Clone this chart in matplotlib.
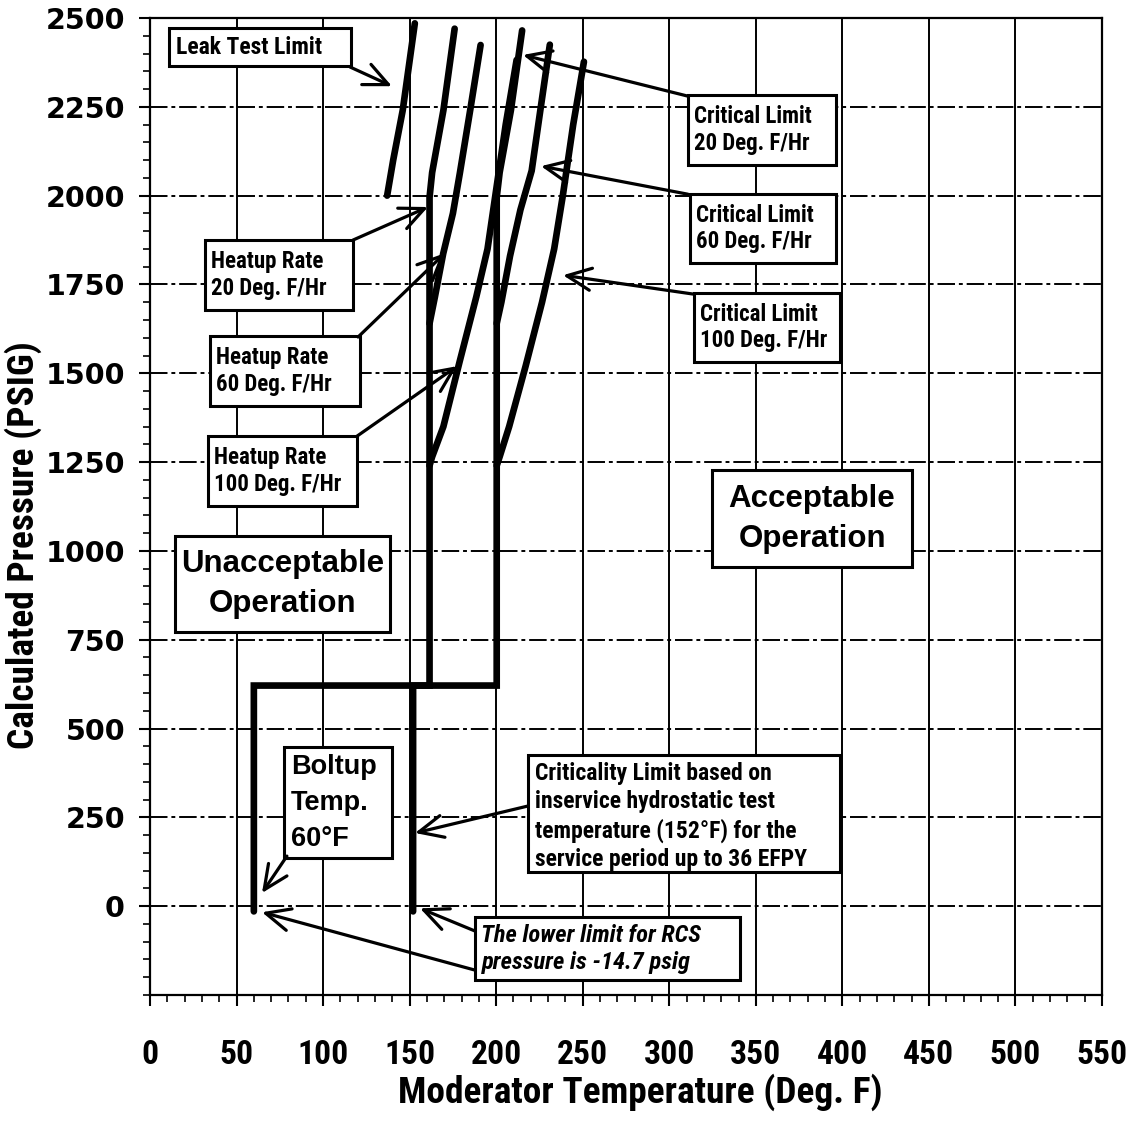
import matplotlib
matplotlib.use('Agg')
import matplotlib.pyplot as plt
from matplotlib import font_manager
from matplotlib.patches import Rectangle
from matplotlib.ticker import MultipleLocator

# P-T limit curves (temperature in deg F, pressure in psig)
leak_test_T = [137, 140.5, 146, 153]
leak_test_P = [2000, 2100, 2240, 2485]

# heatup 20 F/hr includes the boltup leg at 60 F
heatup_20_T = [60, 60, 161.5, 161.5, 163, 169.5, 176]
heatup_20_P = [-14.7, 621, 621, 1995, 2065, 2240, 2470]
heatup_60_T = [161.5, 164.6, 169.4, 175, 179, 185, 191]
heatup_60_P = [1640, 1715, 1837, 1950, 2063, 2241, 2424]
heatup_100_T = [161.5, 163, 169.5, 179, 188.5, 195, 199.5, 205.5, 211.8]
heatup_100_P = [1240, 1265, 1350, 1535, 1715, 1850, 2000, 2200, 2382]

# criticality limits include the 152 F hydrostatic test leg
critical_20_T = [152, 152, 200.3, 200.3, 202, 208.5, 215]
critical_20_P = [-14.7, 621, 621, 1995, 2065, 2240, 2465]
critical_60_T = [200.3, 203, 208, 214, 220.5, 225.5, 231]
critical_60_P = [1640, 1700, 1830, 1960, 2070, 2240, 2425]
critical_100_T = [200.3, 202, 207.5, 217, 226.5, 233.5, 238.5, 244.5, 250.7]
critical_100_P = [1240, 1265, 1350, 1520, 1700, 1850, 2000, 2200, 2377]

x_ticks = list(range(0, 551, 50))
y_ticks = list(range(0, 2501, 250))

# pick a condensed bold face if one is around, else plain Liberation Sans
names = {f.name for f in font_manager.fontManager.ttflist}
NARROW, GROW = 'Liberation Sans', 1.0
for fam, g in [('Liberation Sans Narrow', 1.2), ('Roboto Condensed', 1.1),
               ('Open Sans Condensed', 1.1)]:
    if fam in names:
        NARROW, GROW = fam, g
        break
WIDE = 'Liberation Sans'

fig = plt.figure(figsize=(11.32, 11.25), dpi=100)
ax = fig.add_axes([150 / 1132, 130 / 1125, 952 / 1132, 977 / 1125])
ax.set_xlim(0, 550)
ax.set_ylim(-250, 2500)

# grid
for t in x_ticks[1:-1]:
    ax.axvline(t, color='k', lw=1.4, zorder=1)
for p in y_ticks[:-1]:
    ax.axhline(p, color='k', lw=1.4, ls=(0, (9, 2, 2, 2)), zorder=1)

for s in ax.spines.values():
    s.set_linewidth(1.6)

ax.set_xticks(x_ticks)
ax.set_yticks(y_ticks)
ax.xaxis.set_minor_locator(MultipleLocator(10))
ax.yaxis.set_minor_locator(MultipleLocator(50))
ax.tick_params(which='major', direction='out', length=8, width=1.5)
ax.tick_params(which='minor', direction='out', length=5, width=1.2)
ax.tick_params(axis='x', pad=24)
ax.tick_params(axis='y', pad=10)
for lab in ax.get_xticklabels():
    lab.set_fontfamily(NARROW)
    lab.set_fontweight('bold')
    lab.set_fontsize(22 * GROW)
for lab in ax.get_yticklabels():
    lab.set_fontfamily('DejaVu Sans')
    lab.set_fontweight('bold')
    lab.set_fontsize(20.5)

fig.text(640 / 1132, 1 - 1092 / 1125, 'Moderator Temperature (Deg. F)',
         ha='center', va='center', fontsize=24.5 * GROW, fontweight='bold', family=NARROW)
fig.text(23 / 1132, 1 - 545 / 1125, 'Calculated Pressure (PSIG)', rotation=90,
         ha='center', va='center', fontsize=24.5 * GROW, fontweight='bold', family=NARROW)

line_kw = dict(color='k', lw=4.8, solid_capstyle='round', solid_joinstyle='miter', zorder=3)
ax.plot(leak_test_T, leak_test_P, **line_kw)
ax.plot(heatup_20_T, heatup_20_P, **line_kw)
ax.plot(heatup_60_T, heatup_60_P, **line_kw)
ax.plot(heatup_100_T, heatup_100_P, **line_kw)
ax.plot(critical_20_T, critical_20_P, **line_kw)
ax.plot(critical_60_T, critical_60_P, **line_kw)
ax.plot(critical_100_T, critical_100_P, **line_kw)


def box(x0, x1, y0, y1):
    ax.add_patch(Rectangle((x0, y0), x1 - x0, y1 - y0, facecolor='white',
                           edgecolor='k', lw=2.2, zorder=5))


def arrow(start, tip):
    ax.annotate('', xy=tip, xytext=start, zorder=6,
                arrowprops=dict(arrowstyle='->,head_length=0.7,head_width=0.32',
                                mutation_scale=25, lw=2.3, color='k',
                                shrinkA=0, shrinkB=0))


def label(x, y, s, size=14, family=None, ha='left', style='normal', spacing=1.3):
    fam = family or NARROW
    if fam == NARROW:
        size = size * GROW
    ax.text(x, y, s, ha=ha, va='center', fontsize=size, fontweight='bold',
            family=fam, style=style, zorder=7, linespacing=spacing)


# leak test
box(11, 116, 2365, 2472)
label(15, 2418, 'Leak Test Limit', 15.5)
arrow((115.6, 2362), (139.8, 2308))

# heatup rates
box(31.8, 117.3, 1678, 1875)
label(35.2, 1777, 'Heatup Rate\n20 Deg. F/Hr', 15, spacing=1.2)
arrow((117.3, 1875), (160.6, 1968))

box(34.7, 121.3, 1408, 1605)
label(38, 1507, 'Heatup Rate\n60 Deg. F/Hr', 15, spacing=1.2)
arrow((120.2, 1602), (170.4, 1838))

box(33.5, 119.6, 1126, 1323)
label(37, 1225, 'Heatup Rate\n100 Deg. F/Hr', 15, spacing=1.2)
arrow((119.6, 1323), (177.4, 1520))

# critical limits
box(310.8, 396.3, 2086, 2283)
label(314.5, 2185, 'Critical Limit\n20 Deg. F/Hr', 15, spacing=1.2)
arrow((310.8, 2280), (215.5, 2396))

box(312, 396.3, 1810, 2004)
label(315.5, 1907, 'Critical Limit\n60 Deg. F/Hr', 15, spacing=1.2)
arrow((310.8, 2004), (225.9, 2083))

box(314.3, 398.6, 1532, 1726)
label(318, 1629, 'Critical Limit\n100 Deg. F/Hr', 15, spacing=1.2)
arrow((313.7, 1723), (238.6, 1776))

# operating regions
box(14.4, 138.6, 771, 1042)
label(76.5, 906, 'Unacceptable\nOperation', 22.5, WIDE, 'center', spacing=1.45)
box(324.7, 440.2, 954, 1227)
label(382.5, 1090, 'Acceptable\nOperation', 22.5, WIDE, 'center', spacing=1.45)

# boltup temperature
box(77.4, 139.8, 135, 448)
label(81.5, 290, 'Boltup\nTemp.\n60\u00b0F', 19.5, WIDE, spacing=1.5)
arrow((79.1, 141), (64.7, 37))

# criticality limit from hydrostatic test
box(218.4, 398.6, 96, 425)
label(222.5, 252, 'Criticality Limit based on\ninservice hydrostatic test\n'
      'temperature (152\u00b0F) for the\nservice period up to 36 EFPY', 15.5, spacing=1.28)
arrow((218.4, 282), (153.1, 206))

# lower pressure limit
box(187.8, 340.8, -208, -31)
label(191.5, -120, 'The lower limit for RCS\npressure is -14.7 psig', 16, style='italic',
      spacing=1.2)
arrow((187.8, -70), (156, -6))
arrow((187.8, -180), (64.7, -17))

fig.savefig('out.png', dpi=100)
